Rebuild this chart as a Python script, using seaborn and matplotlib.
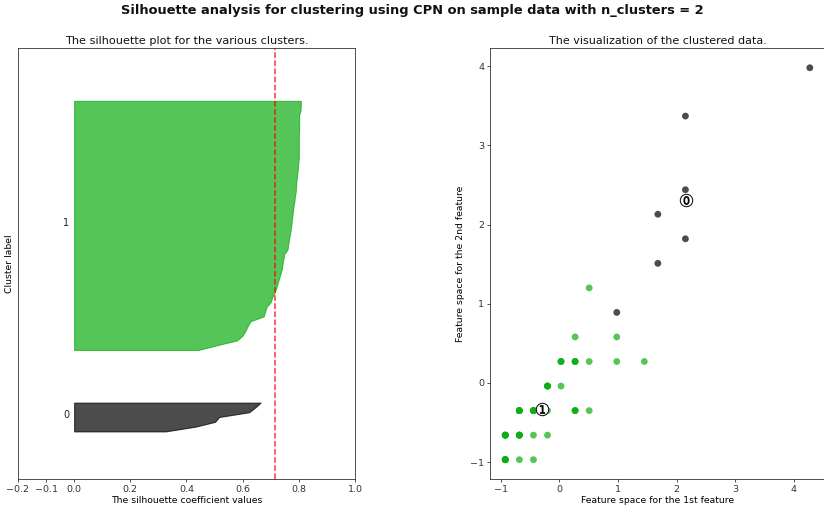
import numpy as np
import pandas as pd
import matplotlib
matplotlib.use("Agg")
import matplotlib.pyplot as plt
import seaborn as sns

n_clusters = 2

# Silhouette coefficients per cluster, sorted ascending
sil_cluster0 = [0.326, 0.433, 0.502, 0.516, 0.623, 0.645, 0.664]
sil_cluster1 = [0.442, 0.510, 0.580, 0.600, 0.610, 0.618, 0.628,
                0.675, 0.680, 0.685, 0.700, 0.705, 0.714,
                0.720, 0.725, 0.730, 0.735, 0.740, 0.742, 0.745, 0.748,
                0.760, 0.762, 0.765, 0.768, 0.771, 0.773, 0.775, 0.777, 0.779, 0.781,
                0.784, 0.786, 0.789, 0.790, 0.791, 0.793, 0.795, 0.797, 0.798, 0.800,
                0.800, 0.800, 0.800, 0.800, 0.800, 0.801, 0.801, 0.801, 0.801,
                0.806, 0.807, 0.807]

# Standardised feature values of the samples (unique positions and their counts)
c0_x = [4.27, 2.15, 2.15, 1.68, 2.15, 1.68, 0.98]
c0_y = [3.98, 3.37, 2.44, 2.13, 1.82, 1.51, 0.89]
c0_n = [1, 1, 1, 1, 1, 1, 1]

c1_x = [0.27, 0.98, 0.51, 0.98, 1.45, 0.03, 0.51, -0.44, -0.20, -0.68, -0.44, 0.51, -0.20,
        0.03, 0.27, -0.20, -0.68, -0.44, 0.27, -0.92, -0.68, -0.92]
c1_y = [0.58, 0.58, 0.27, 0.27, 0.27, -0.04, -0.35, -0.66, -0.66, -0.97, -0.97, 1.20, -0.35,
        0.27, 0.27, -0.04, -0.35, -0.35, -0.35, -0.66, -0.66, -0.97]
c1_n = [1, 1, 1, 1, 1, 1, 1, 1, 1, 1, 1, 1, 1,
        3, 3, 4, 5, 5, 3, 5, 5, 7]

silhouette = [np.array(sil_cluster0), np.array(sil_cluster1)]
silhouette_avg = np.concatenate(silhouette).mean()

df = pd.DataFrame({
    "f1": np.concatenate([np.repeat(c0_x, c0_n), np.repeat(c1_x, c1_n)]),
    "f2": np.concatenate([np.repeat(c0_y, c0_n), np.repeat(c1_y, c1_n)]),
    "cluster": np.concatenate([np.zeros(sum(c0_n), int), np.ones(sum(c1_n), int)]),
})
n_samples = len(df)

plt.rcParams.update({
    "font.family": ["DejaVu Sans"],
    "font.size": 6.8,
    "axes.linewidth": 0.6,
    "axes.edgecolor": "#333333",
    "xtick.major.width": 0.6,
    "ytick.major.width": 0.6,
    "xtick.major.size": 2.2,
    "ytick.major.size": 2.2,
    "xtick.major.pad": 2.0,
    "ytick.major.pad": 2.0,
    "xtick.color": "#333333",
    "ytick.color": "#333333",
    "text.color": "#111111",
})

fig = plt.figure(figsize=(8.24, 5.12), dpi=100)
ax1 = fig.add_axes([0.0218, 0.0639, 0.409, 0.842])
ax2 = fig.add_axes([0.5947, 0.0639, 0.4066, 0.842])

# Cluster colours (black and green, drawn at alpha 0.7)
palette = {0: (0.0, 0.0, 0.0), 1: (0.05, 0.68, 0.08)}

# Silhouette plot
ax1.set_xlim([-0.2, 1])
ax1.set_ylim([0, n_samples + (n_clusters + 1) * 10])
y_lower = 10
for i in range(n_clusters):
    vals = np.sort(silhouette[i])
    size_i = vals.shape[0]
    y_upper = y_lower + size_i
    color = palette[i]
    ax1.fill_betweenx(np.arange(y_lower, y_upper), 0, vals,
                      facecolor=color, edgecolor=color, alpha=0.7, linewidth=0.8)
    ax1.text(-0.04, y_lower + 0.5 * size_i, str(i), fontsize=7,
             ha="left", va="center", color="#222222")
    y_lower = y_upper + 10

ax1.set_title("The silhouette plot for the various clusters.", fontsize=8.1, pad=3)
ax1.set_xlabel("The silhouette coefficient values", fontsize=6.7, labelpad=1)
ax1.set_ylabel("Cluster label", fontsize=6.7, labelpad=3)
ax1.axvline(x=silhouette_avg, color="red", linestyle="--", linewidth=1.1, alpha=0.8)
ax1.set_yticks([])
ax1.set_xticks([-0.2, -0.1, 0, 0.2, 0.4, 0.6, 0.8, 1])

# Clustered data
sns.scatterplot(data=df, x="f1", y="f2", hue="cluster", palette=palette,
                s=24, linewidth=0, alpha=0.7, legend=False, ax=ax2)
centers = df.groupby("cluster")[["f1", "f2"]].mean()
ax2.scatter(centers["f1"], centers["f2"], marker="o", c="white", alpha=1,
            s=80, edgecolor="k", linewidth=0.7)
for i, row in centers.iterrows():
    ax2.scatter(row["f1"], row["f2"], marker="$%d$" % i, alpha=1, s=34,
                edgecolor="k", c="k", linewidth=0.5)

ax2.set_title("The visualization of the clustered data.", fontsize=8.0, pad=3)
ax2.set_xlabel("Feature space for the 1st feature", fontsize=6.7, labelpad=1)
ax2.set_ylabel("Feature space for the 2nd feature", fontsize=6.7, labelpad=4)
ax2.set_xticks([-1, 0, 1, 2, 3, 4])
ax2.set_yticks([-1, 0, 1, 2, 3, 4])

fig.suptitle("Silhouette analysis for clustering using CPN on sample data with n_clusters = 2",
             fontsize=9.4, fontweight="bold", y=0.993)

fig.savefig("out.png", dpi=100)
